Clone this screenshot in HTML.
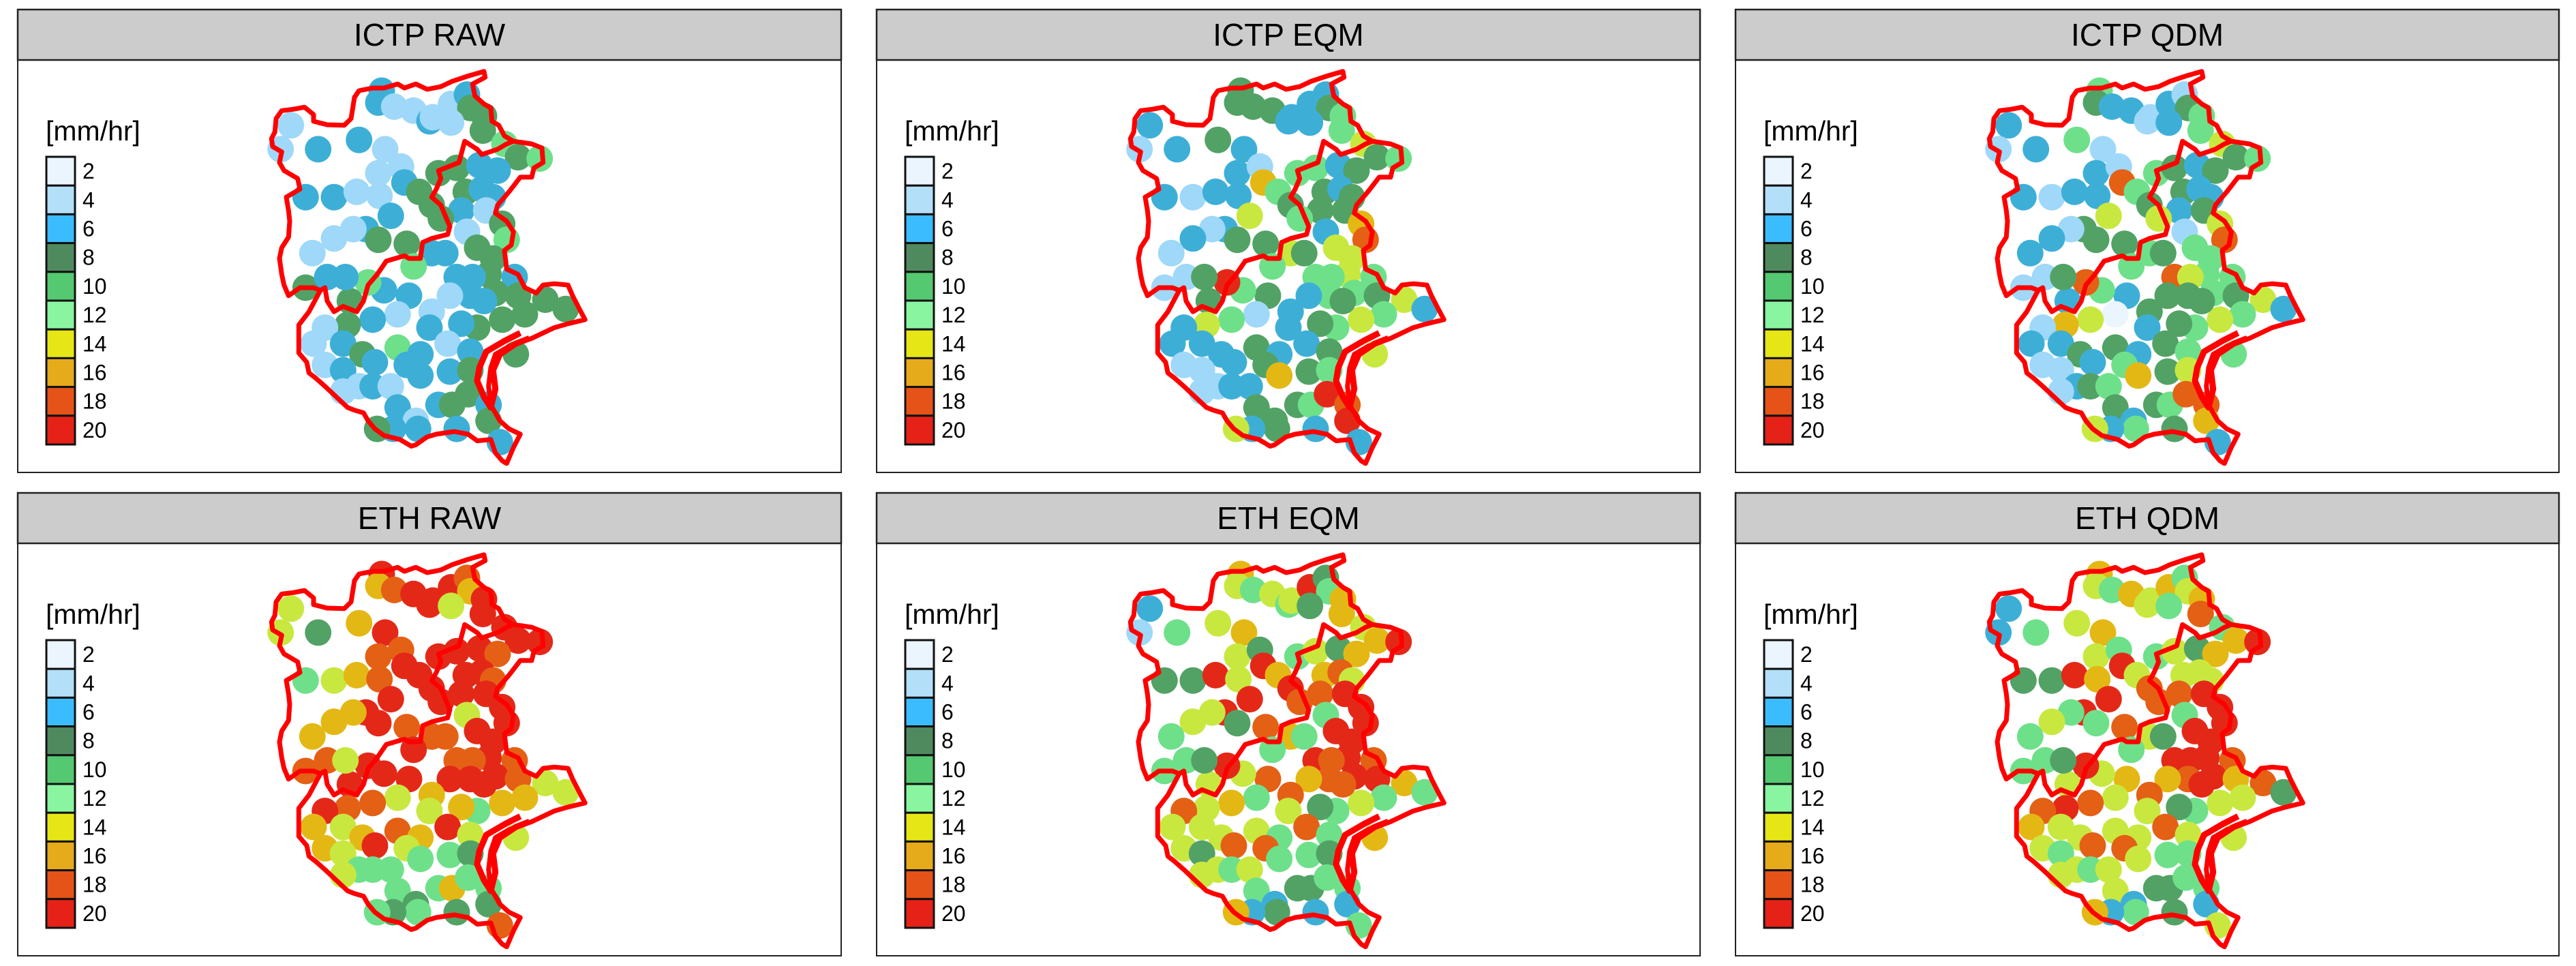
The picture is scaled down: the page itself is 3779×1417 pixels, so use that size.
<!DOCTYPE html>
<html><head><meta charset="utf-8">
<style>
html,body{margin:0;padding:0;background:#fff;}
svg{display:block;}
text{font-family:"Liberation Sans",Arial,sans-serif;}
</style></head>
<body>
<svg id="chart" width="3779" height="1417" viewBox="0 0 3779 1417" xmlns="http://www.w3.org/2000/svg"></svg>
<script>
const panelTitles = ["ICTP RAW","ICTP EQM","ICTP QDM","ETH RAW","ETH EQM","ETH QDM"];
const legendLabels = ["2","4","6","8","10","12","14","16","18","20"];
const legendColors = ["#EAF5FD","#B3DFF8","#3BBCFF","#4F8A5F","#55C971","#8AF5A0","#E6E616","#E6AB1A","#E65318","#E62218"];
const dotColors = {2:"#EAF5FD",4:"#9FD8F8",6:"#3DAFD7",8:"#52A265",10:"#55C971",12:"#6EE08A",14:"#C8E840",16:"#E4B814",18:"#E46015",20:"#E42818"};
// station locations (map units)
const stationX = [540,525,595,680,750,765,845,915,930,990,985,845,140,95,260,440,555,525,625,640,705,760,790,870,1080,1140,1235,970,1050,910,980,1030,890,1000,800,1070,1090,915,960,205,330,430,530,580,470,415,330,235,525,650,760,820,680,1030,1010,870,940,1125,1040,1140,1260,1350,1170,1070,960,890,930,990,840,760,750,660,550,480,400,205,300,380,610,500,390,290,240,370,455,610,710,830,930,1130,290,370,510,650,710,840,930,440,500,580,610,690,790,850,920,1010,1010,870,700,590,520,1060,370];
const stationY = [110,155,170,185,225,210,160,125,175,205,260,230,240,330,330,295,330,420,395,455,490,540,420,400,310,360,365,390,410,490,480,510,560,560,590,610,670,640,700,510,510,490,505,580,630,630,665,720,670,685,720,720,770,740,800,810,810,810,870,880,895,930,950,970,1000,985,880,900,880,940,1000,880,860,830,900,850,810,810,950,970,990,1000,1060,1060,1100,1075,1100,1060,1090,1100,1140,1160,1130,1140,1180,1165,1160,1220,1220,1220,1300,1350,1290,1290,1250,1290,1350,1380,1380,1380,1380,1430,1240];
// values per panel [mm/hr]
const valsIctpRaw = [6,6,4,4,6,4,4,6,8,8,8,4,4,4,6,6,4,4,4,6,8,8,8,8,12,8,12,6,6,8,6,6,6,4,8,8,12,4,8,6,6,4,4,6,6,4,4,4,8,8,6,6,12,8,8,6,6,6,8,8,8,8,8,8,8,6,6,6,4,4,6,6,6,12,8,8,6,6,4,6,8,4,4,6,8,12,6,4,6,8,4,6,6,6,6,6,8,4,6,4,6,4,6,8,8,6,8,6,6,6,8,6,4];
const valsIctpEqm = [8,8,8,8,6,6,6,6,8,12,12,6,6,4,6,8,6,6,4,16,12,8,12,12,14,8,12,6,8,8,6,8,8,8,12,16,18,6,14,6,4,6,6,14,6,4,6,4,8,8,14,8,12,14,14,12,12,12,12,8,14,6,12,14,12,8,12,8,6,6,6,8,12,20,8,4,4,8,4,12,14,6,6,6,6,8,6,6,8,14,4,4,6,8,16,8,12,4,6,6,8,8,8,12,20,18,20,6,8,6,14,6,4];
const valsIctpQdm = [12,8,6,6,4,4,6,4,8,12,12,6,6,4,6,12,4,6,4,18,12,8,12,8,14,8,12,6,8,8,6,6,6,8,14,14,18,4,12,6,4,6,6,14,8,4,6,6,8,8,12,8,12,12,12,18,14,12,12,8,14,6,12,14,12,8,8,8,8,8,6,6,12,18,6,4,4,8,2,14,16,4,6,6,8,8,6,8,12,12,4,4,6,12,16,8,14,6,8,12,8,6,8,12,18,18,16,8,12,6,14,6,4];
const valsEthRaw = [20,16,18,20,20,20,20,18,16,20,20,14,14,14,8,16,20,18,18,20,20,20,20,20,20,20,20,20,18,20,20,18,20,20,20,20,20,14,20,12,14,16,18,20,20,16,16,16,20,18,18,18,20,20,20,18,18,18,20,18,14,14,16,16,12,16,20,20,20,16,14,20,20,20,20,18,18,14,14,18,18,20,16,14,16,18,16,20,14,14,16,14,20,14,12,12,8,12,12,12,12,8,12,16,12,12,8,8,12,8,12,18,14];
const valsEthEqm = [16,14,12,14,12,14,20,8,12,16,16,8,6,4,12,14,16,14,8,20,16,20,12,14,14,16,20,8,16,16,18,14,18,20,18,20,20,12,20,8,8,20,14,20,20,14,14,12,8,18,16,12,12,20,20,20,18,18,20,20,16,12,12,14,12,8,18,18,16,18,14,18,14,20,14,12,12,8,12,16,14,18,14,14,14,14,12,18,12,16,14,8,18,18,12,12,8,14,12,14,12,6,8,8,12,12,6,6,8,6,16,12,14];
const valsEthQdm = [16,14,12,16,14,14,16,12,14,16,18,12,6,6,12,14,16,14,12,20,14,18,12,14,12,16,20,8,16,14,14,14,18,20,18,20,20,12,20,8,8,20,16,20,20,12,14,12,12,18,14,8,12,20,20,20,20,18,20,16,18,8,14,14,12,8,18,20,16,18,14,16,14,20,14,12,12,8,14,18,20,18,16,14,14,14,14,18,14,14,14,12,18,18,14,12,12,14,12,14,14,6,8,8,12,12,6,8,12,6,16,14,14];
const panelValues = [valsIctpRaw,valsIctpEqm,valsIctpQdm,valsEthRaw,valsEthEqm,valsEthQdm];

// region outline (map units)
const outerBoundary = [[100,185],[150,180],[200,172],[240,200],[240,225],[300,238],[375,240],[405,215],[420,135],[440,110],[500,100],[550,100],[610,85],[640,100],[690,85],[740,105],[800,95],[850,75],[920,55],[990,38],[995,60],[940,85],[950,130],[990,160],[1020,175],[1025,225],[1055,240],[1080,280],[1120,300],[1200,310],[1245,325],[1250,380],[1210,400],[1200,435],[1150,435],[1100,490],[1050,540],[1040,570],[1090,600],[1120,640],[1110,690],[1080,710],[1090,780],[1140,800],[1170,850],[1220,870],[1250,840],[1300,835],[1360,840],[1380,880],[1410,930],[1435,970],[1360,985],[1300,1000],[1200,1040],[1100,1070],[1040,1100],[1020,1150],[1010,1220],[1020,1290],[1060,1350],[1100,1380],[1150,1400],[1120,1450],[1090,1510],[1070,1500],[1040,1470],[1020,1420],[960,1425],[920,1400],[860,1390],[780,1400],[740,1410],[690,1440],[670,1445],[620,1420],[550,1405],[510,1380],[480,1350],[460,1320],[420,1310],[390,1300],[340,1260],[290,1220],[250,1190],[220,1170],[210,1130],[175,1095],[175,990],[220,940],[270,860],[240,850],[180,850],[130,880],[110,840],[100,800],[90,740],[100,700],[130,660],[135,600],[130,560],[120,510],[180,480],[170,440],[110,410],[90,380],[100,340],[60,320],[55,290],[70,265],[75,215],[100,185]];
const innerBoundaryA = [[1120,300],[1090,310],[1050,330],[980,350],[960,330],[905,300],[880,380],[790,410],[800,440],[780,480],[760,510],[800,540],[820,580],[840,620],[830,650],[760,665],[720,680],[710,740],[660,740],[640,730],[560,750],[520,800],[480,840],[460,900],[430,940],[370,920],[330,940],[300,900],[290,850],[270,860]];
const lagoon = [[1150,1020],[1080,1050],[1000,1090],[970,1150],[960,1200],[990,1260],[1020,1300],[1040,1230],[1030,1160],[1060,1100],[1130,1060],[1190,1040]];

const colX = [26,1286,2546];
const rowY = [14,723];
const PW = 1208, PH = 679, SH = 74;
const NS = "http://www.w3.org/2000/svg";
const svg = document.getElementById("chart");
function mk(tag, attrs, parent){const e=document.createElementNS(NS,tag);for(const k in attrs)e.setAttribute(k,attrs[k]);(parent||svg).appendChild(e);return e;}
function sx(v){return 354 + v/3;}
function sy(v){return 76 + v/2.56;}
function pathOf(pts,close){return pts.map((p,i)=>(i?"L":"M")+sx(p[0]).toFixed(1)+" "+sy(p[1]).toFixed(1)).join(" ")+(close?" Z":"");}
function colorFor(v){let best=4,d=1e9;for(const k in dotColors){const dd=Math.abs(k-v);if(dd<d){d=dd;best=k;}}return dotColors[best];}

panelTitles.forEach((title, idx) => {
  const ox = colX[idx%3], oy = rowY[Math.floor(idx/3)];
  const g = mk("g",{transform:`translate(${ox},${oy})`});
  
  
  const body = mk("rect",{x:0,y:0,width:PW,height:PH,fill:"#fff",stroke:"#222","stroke-width":2},g);
  
  
  const strip = mk("rect",{x:0,y:0,width:PW,height:SH,fill:"#CCCCCC",stroke:"#222","stroke-width":2.5},g);
  
  
  const t = mk("text",{x:PW/2,y:SH/2+16,"text-anchor":"middle","font-size":46,fill:"#000"},g);
  t.textContent = title;
  
  
  // legend
  const lt = mk("text",{x:41,y:192,"font-size":41,fill:"#000"},g);
  lt.textContent = "[mm/hr]";
  
  
  const ch = 42.2;
  legendLabels.forEach((lab,i)=>{
    const r = mk("rect",{x:42,y:216+i*ch,width:42,height:ch,fill:legendColors[i],stroke:"#111","stroke-width":3},g);
    
    
    const lt2 = mk("text",{x:95,y:216+i*ch+ch/2+11,"font-size":32,fill:"#000"},g);
    lt2.textContent = lab;
    
    
  });
  // dots
  const vals = panelValues[idx];
  const dg = mk("g",{},g);
  
  
  stationX.forEach((x,i)=>{
    const c = mk("circle",{cx:sx(x).toFixed(1),cy:sy(stationY[i]).toFixed(1),r:19.5,fill:colorFor(vals[i])},dg);
    
    
  });
  // outlines
  const o1 = mk("path",{d:pathOf(outerBoundary,true),fill:"none",stroke:"#FF0000","stroke-width":7,"stroke-linejoin":"round"},g);
  
  
  const o2 = mk("path",{d:pathOf(innerBoundaryA,false),fill:"none",stroke:"#FF0000","stroke-width":7,"stroke-linejoin":"round"},g);
  
  
  const o3 = mk("path",{d:pathOf(lagoon,false),fill:"none",stroke:"#FF0000","stroke-width":9,"stroke-linejoin":"round"},g);
  
  
});
</script>
</body></html>
